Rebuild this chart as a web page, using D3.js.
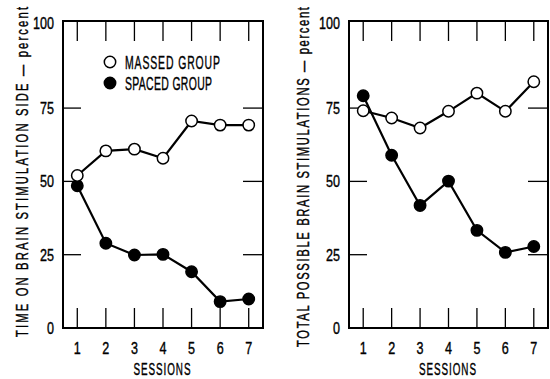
<!DOCTYPE html>
<html><head><meta charset="utf-8">
<script src="https://cdn.jsdelivr.net/npm/d3@7/dist/d3.min.js"></script>
<style>
html,body{margin:0;padding:0;background:#fff;}
svg text{font-family:"Liberation Sans",Arial,sans-serif;fill:#000;}
</style></head>
<body><svg id="c" width="550" height="379"></svg>
<script>
const sessions = [1, 2, 3, 4, 5, 6, 7];
const yTickValues = [0, 25, 50, 75, 100];
const massedTimeSide = [52, 60.4, 61, 57.9, 70.6, 69.2, 69.2];
const spacedTimeSide = [48.5, 28.9, 24.9, 25.1, 19.2, 9.0, 9.9];
const massedTotalStim = [74.1, 71.6, 68.2, 73.9, 80.1, 73.9, 84.0];
const spacedTotalStim = [79.2, 58.9, 41.8, 50.1, 33.3, 25.8, 27.8];
const yTitles = ["TIME ON BRAIN STIMULATION SIDE \u2014 percent", "TOTAL POSSIBLE BRAIN STIMULATIONS \u2014 percent"];
const xTitle = "SESSIONS";
const legendLabels = ["MASSED GROUP", "SPACED GROUP"];

const svg = d3.select("#c");
const panels = [
  {x0: 63, x1: 263, massed: massedTimeSide, spaced: spacedTimeSide, title: yTitles[0], tx: 28, ty: 172, tlen: 330},
  {x0: 349, x1: 548, massed: massedTotalStim, spaced: spacedTotalStim, title: yTitles[1], tx: 309, ty: 177, tlen: 340}
];
const plotTop = 21, plotBottom = 328;

// narrow glyphs, optionally spread to a given on-screen length
function narrowText(g, x, y, txt, size, anchor, len, rot, sx) {
  sx = sx || 0.74;
  const t = g.append("text")
    .attr("transform", `translate(${x},${y})${rot ? " rotate(-90)" : ""} scale(${sx},1)`)
    .attr("text-anchor", anchor).attr("font-size", size)
    .attr("stroke", "#000").attr("stroke-width", 0.4).text(txt);
  if (len) t.attr("textLength", len / sx).attr("lengthAdjust", "spacing");
  return t;
}

panels.forEach((p, pi) => {
  const x = d3.scaleLinear().domain([0.5, 7.5]).range([p.x0, p.x1]);
  const y = d3.scaleLinear().domain([0, 104.7]).range([plotBottom, plotTop]);
  const g = svg.append("g");

  g.append("rect").attr("x", p.x0).attr("y", plotTop).attr("width", p.x1 - p.x0).attr("height", plotBottom - plotTop)
    .attr("fill", "none").attr("stroke", "#000").attr("stroke-width", 2);

  sessions.forEach(s => {
    g.append("line").attr("x1", x(s)).attr("x2", x(s)).attr("y1", plotTop).attr("y2", plotTop + 20)
      .attr("stroke", "#000").attr("stroke-width", 1.3);
    g.append("line").attr("x1", x(s)).attr("x2", x(s)).attr("y1", plotBottom).attr("y2", plotBottom - 20)
      .attr("stroke", "#000").attr("stroke-width", 1.3);
    narrowText(g, x(s), 354, s, 17, "middle");
  });

  yTickValues.forEach(v => {
    if (v > 0 && v < 100) {
      g.append("line").attr("x1", p.x0).attr("x2", p.x0 + 18).attr("y1", y(v)).attr("y2", y(v))
        .attr("stroke", "#000").attr("stroke-width", 1.3);
      g.append("line").attr("x1", p.x1).attr("x2", p.x1 - 20).attr("y1", y(v)).attr("y2", y(v))
        .attr("stroke", "#000").attr("stroke-width", 1.3);
    }
    const ly = v === 100 ? plotTop + 2 : y(v);
    narrowText(g, p.x0 - 9, ly + 6, v, 17, "end");
  });

  narrowText(g, (p.x0 + p.x1) / 2 - 1, 375, xTitle, 17, "middle", 57, false, 0.58);
  narrowText(g, p.tx, p.ty, p.title, 16.5, "middle", p.tlen, true, 0.68);

  const line = d3.line().x((d, i) => x(sessions[i])).y(d => y(d));
  [["spaced", "#000"], ["massed", "#fff"]].forEach(([k, fill]) => {
    g.append("path").datum(p[k]).attr("d", line).attr("fill", "none")
      .attr("stroke", "#000").attr("stroke-width", 2.2);
    g.selectAll("circle." + k).data(p[k]).enter().append("circle").attr("class", k)
      .attr("cx", (d, i) => x(sessions[i])).attr("cy", d => y(d)).attr("r", 5.7)
      .attr("fill", fill).attr("stroke", "#000").attr("stroke-width", 1.5);
  });

  if (pi === 0) {
    legendLabels.forEach((t, i) => {
      const cy = 62 + i * 21;
      g.append("circle").attr("cx", 110).attr("cy", cy).attr("r", 5.7)
        .attr("fill", i === 0 ? "#fff" : "#000").attr("stroke", "#000").attr("stroke-width", 1.5);
      narrowText(g, 125, cy + 6.5, t, 18, "start", i === 0 ? 95 : 87, false, 0.58);
    });
  }
});
</script></body></html>
